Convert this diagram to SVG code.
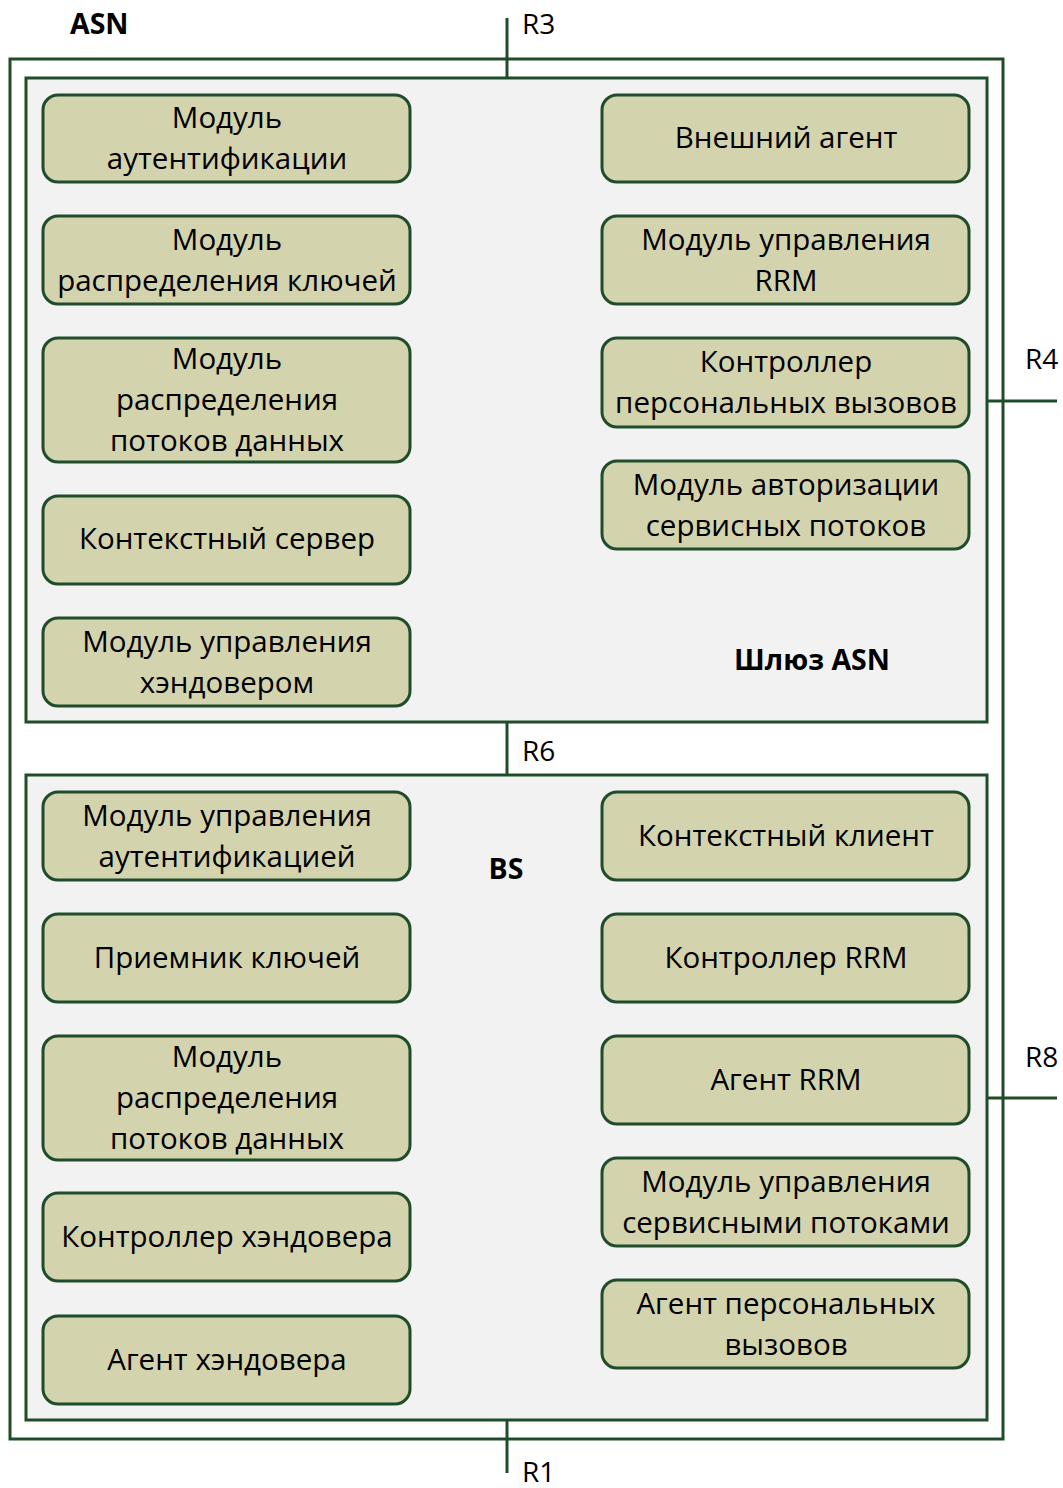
<svg xmlns="http://www.w3.org/2000/svg" width="1063" height="1488" viewBox="0 0 1063 1488">
<style>
.box{fill:#f2f2f2;stroke:#1f4d2b;stroke-width:3}
.outer{fill:#ffffff;stroke:#1f4d2b;stroke-width:3}
.n{fill:#d3d3ad;stroke:#1f4d2b;stroke-width:3}
.t{font-family:"Open Sans","Noto Sans",sans-serif;font-size:29.5px;fill:#000;text-anchor:middle}
.l{font-family:"Open Sans","Noto Sans",sans-serif;font-size:28px;fill:#000}
.b{font-family:"Open Sans","Noto Sans",sans-serif;font-size:28.5px;font-weight:bold;fill:#000}
.c{stroke:#1f4d2b;stroke-width:3;fill:none}
</style>
<rect width="1063" height="1488" fill="#ffffff"/>
<rect class="outer" x="10" y="59" width="993" height="1380"/>
<g id="gateway"><rect class="box" x="26" y="78" width="961" height="644"/><text class="b" x="812" y="670" text-anchor="middle">Шлюз ASN</text></g>
<g id="bs"><rect class="box" x="26" y="775" width="961" height="645"/><text class="b" x="506" y="879" text-anchor="middle">BS</text></g>
<g id="connectors">
<line class="c" x1="507" y1="18" x2="507" y2="78"/>
<line class="c" x1="507" y1="722" x2="507" y2="775"/>
<line class="c" x1="507" y1="1420" x2="507" y2="1473"/>
<line class="c" x1="987" y1="401" x2="1057" y2="401"/>
<line class="c" x1="987" y1="1098" x2="1057" y2="1098"/>
</g>
<text class="b" x="70" y="34">ASN</text>
<text class="l" x="522" y="34">R3</text>
<text class="l" x="1025" y="369">R4</text>
<text class="l" x="522" y="761">R6</text>
<text class="l" x="1025" y="1067">R8</text>
<text class="l" x="522" y="1482">R1</text>
<g id="n1"><rect class="n" x="43" y="95" width="367" height="87" rx="15"/><text class="t" x="227" y="128">Модуль</text><text class="t" x="227" y="169">аутентификации</text></g>
<g id="n2"><rect class="n" x="43" y="216" width="367" height="88" rx="15"/><text class="t" x="227" y="250">Модуль</text><text class="t" x="227" y="291">распределения ключей</text></g>
<g id="n3"><rect class="n" x="43" y="338" width="367" height="124" rx="15"/><text class="t" x="227" y="369">Модуль</text><text class="t" x="227" y="410">распределения</text><text class="t" x="227" y="451">потоков данных</text></g>
<g id="n4"><rect class="n" x="43" y="496" width="367" height="88" rx="15"/><text class="t" x="227" y="549">Контекстный сервер</text></g>
<g id="n5"><rect class="n" x="43" y="618" width="367" height="88" rx="15"/><text class="t" x="227" y="652">Модуль управления</text><text class="t" x="227" y="693">хэндовером</text></g>
<g id="n6"><rect class="n" x="602" y="95" width="367" height="87" rx="15"/><text class="t" x="786" y="148">Внешний агент</text></g>
<g id="n7"><rect class="n" x="602" y="216" width="367" height="88" rx="15"/><text class="t" x="786" y="250">Модуль управления</text><text class="t" x="786" y="291">RRM</text></g>
<g id="n8"><rect class="n" x="602" y="338" width="367" height="89" rx="15"/><text class="t" x="786" y="372">Контроллер</text><text class="t" x="786" y="413">персональных вызовов</text></g>
<g id="n9"><rect class="n" x="602" y="461" width="367" height="88" rx="15"/><text class="t" x="786" y="495">Модуль авторизации</text><text class="t" x="786" y="536">сервисных потоков</text></g>
<g id="n10"><rect class="n" x="43" y="792" width="367" height="88" rx="15"/><text class="t" x="227" y="826">Модуль управления</text><text class="t" x="227" y="867">аутентификацией</text></g>
<g id="n11"><rect class="n" x="43" y="914" width="367" height="88" rx="15"/><text class="t" x="227" y="968">Приемник ключей</text></g>
<g id="n12"><rect class="n" x="43" y="1036" width="367" height="124" rx="15"/><text class="t" x="227" y="1067">Модуль</text><text class="t" x="227" y="1108">распределения</text><text class="t" x="227" y="1149">потоков данных</text></g>
<g id="n13"><rect class="n" x="43" y="1193" width="367" height="88" rx="15"/><text class="t" x="227" y="1247">Контроллер хэндовера</text></g>
<g id="n14"><rect class="n" x="43" y="1316" width="367" height="88" rx="15"/><text class="t" x="227" y="1370">Агент хэндовера</text></g>
<g id="n15"><rect class="n" x="602" y="792" width="367" height="88" rx="15"/><text class="t" x="786" y="846">Контекстный клиент</text></g>
<g id="n16"><rect class="n" x="602" y="914" width="367" height="88" rx="15"/><text class="t" x="786" y="968">Контроллер RRM</text></g>
<g id="n17"><rect class="n" x="602" y="1036" width="367" height="88" rx="15"/><text class="t" x="786" y="1090">Агент RRM</text></g>
<g id="n18"><rect class="n" x="602" y="1158" width="367" height="88" rx="15"/><text class="t" x="786" y="1192">Модуль управления</text><text class="t" x="786" y="1233">сервисными потоками</text></g>
<g id="n19"><rect class="n" x="602" y="1280" width="367" height="88" rx="15"/><text class="t" x="786" y="1314">Агент персональных</text><text class="t" x="786" y="1355">вызовов</text></g>
</svg>
